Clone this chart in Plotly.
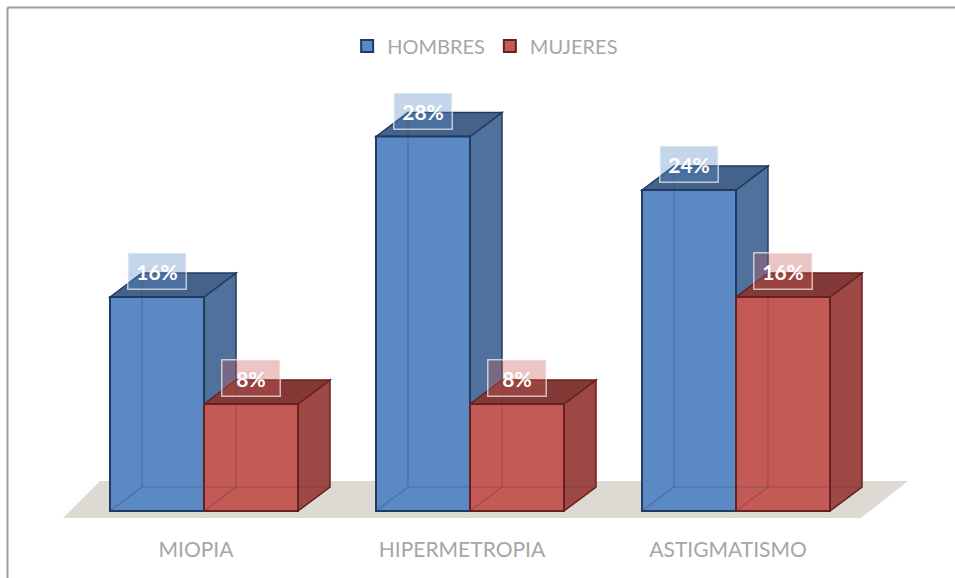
import plotly.graph_objects as go

# ---- data -------------------------------------------------------------
categories = ["MIOPIA", "HIPERMETROPIA", "ASTIGMATISMO"]
hombres = [16, 28, 24]
mujeres = [8, 8, 16]
series_names = ["HOMBRES", "MUJERES"]

# ---- geometry (figure pixels -> axis units) ---------------------------
W, H = 955, 578
PLOT_H = 525            # plot-area height; bottom margin holds category labels
PX_PER_CAT = 266.0      # distance between category centres
PX_PER_PCT = 13.375     # vertical pixels per percentage point
FIRST_CAT_PX = 204.0    # x pixel of first category centre
BASE_PX = 511.0         # y pixel of the 0 % baseline

x_range = [-FIRST_CAT_PX / PX_PER_CAT, (W - FIRST_CAT_PX) / PX_PER_CAT]
y_range = [-(PLOT_H - BASE_PX) / PX_PER_PCT, BASE_PX / PX_PER_PCT]

BAR_W = 94 / PX_PER_CAT          # width of a column in category units
DX = 32 / PX_PER_CAT             # depth offset to the right
DY = 24 / PX_PER_PCT             # depth offset upward
LABEL_LIFT = 26 / PX_PER_PCT     # data label above column top

FONT = "Lato, 'Open Sans', sans-serif"
GREY = "#a6a6a6"

styles = [
    dict(front="#5a89c4", side="#4f719b", top="#44628a", edge="#1f3b63",
         rgb=(90, 137, 196)),
    dict(front="#c45a56", side="#9e4845", top="#833a37", edge="#652120",
         rgb=(196, 90, 86)),
]

fig = go.Figure()
shapes = []
annotations = []

# floor slab under the columns
n = len(categories)
fl_y0, fl_y1 = -7 / PX_PER_PCT, 30 / PX_PER_PCT
fl_l, fl_r = -0.53, n - 1 + 0.47
shapes.append(dict(
    type="path", xref="x", yref="y", layer="below",
    path=(f"M {fl_l},{fl_y0} L {fl_r},{fl_y0} L {fl_r + 0.177},{fl_y1} "
          f"L {fl_l + 0.139},{fl_y1} Z"),
    fillcolor="#dddad3", line=dict(width=0),
))

hidden = []
for s, (name, vals) in enumerate(zip(series_names, [hombres, mujeres])):
    st = styles[s]
    offset = -BAR_W if s == 0 else 0.0
    fig.add_trace(go.Bar(
        name=name, x=categories, y=vals, width=BAR_W, offset=offset,
        marker=dict(color=st["front"], line=dict(color=st["edge"], width=2)),
        hoverinfo="x+y",
    ))
    r, g, b = st["rgb"]
    for i, v in enumerate(vals):
        x0 = i + offset
        x1 = x0 + BAR_W
        # right side face
        shapes.append(dict(
            type="path", xref="x", yref="y", layer="below",
            path=(f"M {x1},0 L {x1 + DX},{DY} L {x1 + DX},{v + DY} "
                  f"L {x1},{v} Z"),
            fillcolor=st["side"], line=dict(color=st["edge"], width=1.5),
        ))
        # top face
        shapes.append(dict(
            type="path", xref="x", yref="y", layer="below",
            path=(f"M {x0},{v} L {x0 + DX},{v + DY} L {x1 + DX},{v + DY} "
                  f"L {x1},{v} Z"),
            fillcolor=st["top"], line=dict(color=st["edge"], width=1.5),
        ))
        # back edges seen through the translucent front face
        faint = f"rgba({r // 2},{g // 2},{b // 2},0.35)"
        hidden.append(dict(
            type="path", xref="x", yref="y", layer="above",
            path=(f"M {x0 + DX},{v + DY} L {x0 + DX},{DY} L {x1 + DX},{DY} "
                  f"M {x0},0 L {x0 + DX},{DY}"),
            line=dict(color=faint, width=1.2),
        ))
        # value label
        annotations.append(dict(
            x=x0 + BAR_W / 2, y=v + LABEL_LIFT, xref="x", yref="y",
            text=f"<b>{v}%</b>", showarrow=False,
            font=dict(family=FONT, size=21, color="white"),
            bgcolor=f"rgba({r},{g},{b},0.35)",
            bordercolor="rgba(255,255,255,0.65)", borderwidth=1.5,
            width=55, height=33, valign="middle",
        ))

shapes.extend(hidden)

# chart frame (top and left rules)
fx = 7.5 / W
fy = 1 - 7.5 / PLOT_H
shapes.append(dict(type="line", xref="paper", yref="paper",
                   x0=fx, x1=1.01, y0=fy, y1=fy,
                   line=dict(color="#9c9c9c", width=2)))
shapes.append(dict(type="line", xref="paper", yref="paper",
                   x0=fx, x1=fx, y0=fy, y1=-(H - PLOT_H) / PLOT_H - 0.01,
                   line=dict(color="#9c9c9c", width=2)))

fig.update_layout(
    width=W, height=H,
    margin=dict(l=0, r=0, t=0, b=H - PLOT_H),
    paper_bgcolor="white", plot_bgcolor="white",
    barmode="overlay",
    showlegend=True,
    legend=dict(
        orientation="h", x=0.508, xanchor="center",
        y=1 - 46 / PLOT_H, yanchor="middle",
        font=dict(family=FONT, size=20, color=GREY),
        bgcolor="rgba(0,0,0,0)", itemclick=False, itemdoubleclick=False,
        itemwidth=30,
    ),
    xaxis=dict(
        type="category", range=x_range, showgrid=False, zeroline=False,
        showline=False, ticks="", tickfont=dict(family=FONT, size=21, color=GREY),
        ticklabelstandoff=10, ticklabelshift=-8, fixedrange=True,
    ),
    yaxis=dict(
        range=y_range, visible=False, showgrid=False, zeroline=False,
        fixedrange=True,
    ),
    shapes=shapes,
    annotations=annotations,
)

fig.write_html("out.html")
